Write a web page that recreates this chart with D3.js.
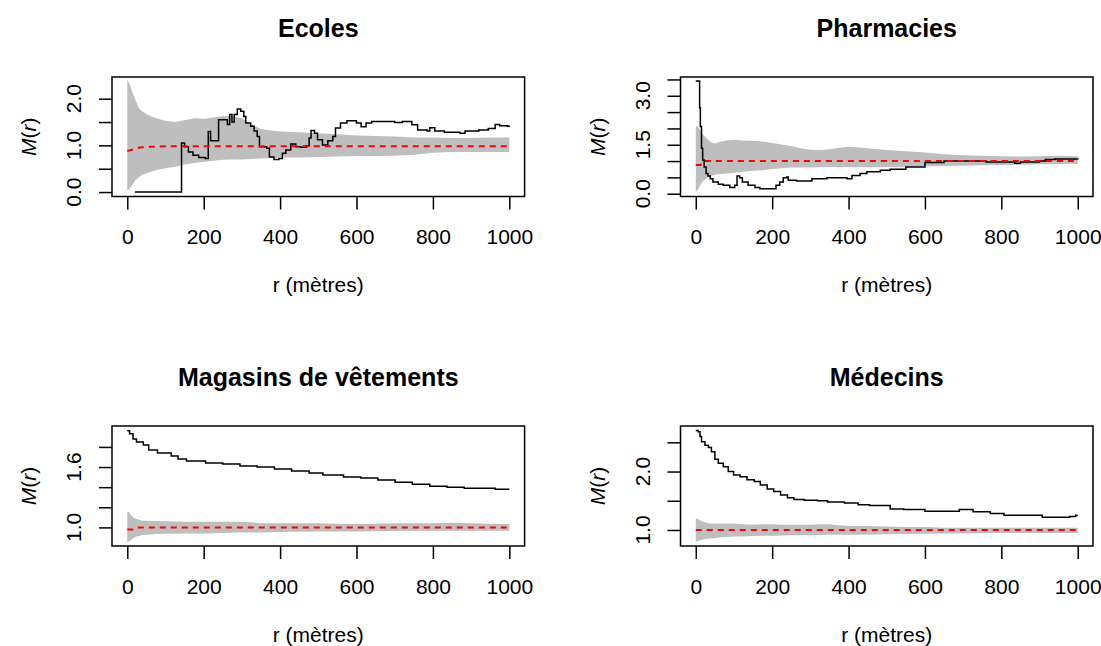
<!DOCTYPE html>
<html><head><meta charset="utf-8">
<script src="https://cdn.jsdelivr.net/npm/d3@7"></script>
<style>
body{margin:0;background:#fff}
svg{display:block}
text{font-family:"Liberation Sans",Arial,Helvetica,sans-serif;fill:#000}
</style>
</head><body>
<svg id="chart" width="1101" height="646"></svg>
<script>
// ---------------- DATA ----------------
const titles = ["Ecoles", "Pharmacies", "Magasins de vêtements", "Médecins"];
const xLabel = "r (mètres)";
const xTicks = [0, 200, 400, 600, 800, 1000];

// envelope grid (r in metres)
const bandR = [0,5,10,15,20,30,40,50,60,80,100,125,150,175,200,225,250,275,300,325,350,375,400,450,500,550,600,650,700,750,800,850,900,950,1000];

// Ecoles
const ecolesHi = [2.40,2.33,2.22,2.10,2.00,1.80,1.72,1.67,1.63,1.57,1.53,1.50,1.54,1.58,1.57,1.60,1.63,1.62,1.58,1.45,1.35,1.32,1.30,1.28,1.26,1.24,1.21,1.20,1.19,1.17,1.17,1.16,1.16,1.17,1.17];
const ecolesLo = [0.03,0.06,0.12,0.17,0.24,0.32,0.37,0.40,0.43,0.48,0.51,0.54,0.59,0.62,0.65,0.67,0.69,0.70,0.70,0.71,0.72,0.73,0.74,0.74,0.75,0.76,0.77,0.77,0.78,0.80,0.84,0.86,0.86,0.86,0.86];
const ecolesTheoR = [0,10,20,30,40,60,100,1000];
const ecolesTheo = [0.88,0.90,0.93,0.95,0.96,0.97,0.98,0.98];
const ecolesObsR = [20,142,150,160,172,187,204,212,218,239,262,268,274,280,288,297,305,310,323,332,340,346,365,372,384,397,406,415,428,441,454,468,476,481,490,498,511,525,538,545,558,575,600,612,625,640,700,720,745,760,785,792,805,830,871,884,920,945,963,975,995,1000];
const ecolesObs = [0,1.05,0.97,0.86,0.79,0.74,0.72,1.30,1.10,1.55,1.45,1.66,1.50,1.66,1.78,1.73,1.62,1.48,1.41,1.31,1.19,0.97,0.94,0.75,0.70,0.72,0.83,0.90,1.03,0.97,0.96,0.99,1.16,1.32,1.26,1.12,1.01,1.10,1.19,1.37,1.48,1.53,1.48,1.40,1.48,1.51,1.49,1.51,1.44,1.33,1.31,1.38,1.31,1.28,1.26,1.31,1.33,1.36,1.45,1.42,1.41,1.40];

// Pharmacies
const pharmaHi = [2.06,2.06,1.98,1.90,1.80,1.68,1.58,1.54,1.58,1.63,1.65,1.63,1.62,1.60,1.55,1.51,1.46,1.39,1.35,1.34,1.36,1.41,1.44,1.39,1.34,1.30,1.26,1.21,1.18,1.16,1.15,1.14,1.15,1.16,1.15];
const pharmaLo = [0.05,0.12,0.22,0.33,0.40,0.48,0.54,0.58,0.60,0.62,0.64,0.67,0.70,0.72,0.76,0.78,0.80,0.80,0.80,0.81,0.82,0.82,0.81,0.81,0.82,0.83,0.84,0.85,0.86,0.87,0.88,0.89,0.90,0.91,0.92];
const pharmaTheoR = [0,12,20,1000];
const pharmaTheo = [0.88,0.88,1.00,1.00];
const pharmaObsR = [0,10,12,15,18,22,27,32,38,45,59,72,89,102,108,115,122,137,155,168,210,220,229,238,242,264,282,304,343,378,396,409,430,448,483,509,550,600,650,700,760,800,835,850,900,915,940,1000];
const pharmaObs = [3.45,2.63,2.06,1.39,1.03,0.82,0.62,0.54,0.46,0.36,0.29,0.26,0.19,0.26,0.54,0.49,0.36,0.26,0.19,0.15,0.26,0.36,0.49,0.51,0.41,0.39,0.39,0.46,0.49,0.49,0.46,0.56,0.62,0.67,0.72,0.75,0.82,0.96,1.00,1.00,0.97,0.97,0.93,0.97,1.00,1.05,1.06,1.05];

// Magasins de vêtements
const magHi = [1.155,1.15,1.12,1.10,1.09,1.075,1.066,1.065,1.064,1.063,1.06,1.058,1.056,1.056,1.056,1.056,1.056,1.056,1.055,1.05,1.04,1.04,1.04,1.04,1.04,1.035,1.033,1.036,1.04,1.04,1.04,1.045,1.04,1.036,1.033];
const magLo = [0.848,0.86,0.874,0.89,0.905,0.915,0.924,0.928,0.93,0.934,0.936,0.938,0.94,0.94,0.94,0.942,0.944,0.946,0.948,0.95,0.95,0.952,0.954,0.956,0.958,0.96,0.96,0.962,0.964,0.966,0.967,0.967,0.967,0.967,0.967];
const magTheoR = [0,15,25,1000];
const magTheo = [0.98,0.98,1.00,1.00];
const magObsR = [0,6,15,24,42,56,79,115,133,155,205,250,295,340,385,430,476,512,566,611,656,701,746,792,837,882,927,963,1000];
const magObs = [1.96,1.93,1.88,1.85,1.82,1.77,1.74,1.71,1.68,1.66,1.64,1.63,1.61,1.60,1.58,1.56,1.54,1.52,1.50,1.49,1.47,1.45,1.43,1.41,1.40,1.39,1.39,1.38,1.38];

// Médecins
const medHi = [1.20,1.19,1.17,1.15,1.14,1.12,1.11,1.11,1.11,1.11,1.11,1.10,1.09,1.10,1.10,1.09,1.09,1.09,1.09,1.10,1.10,1.08,1.07,1.07,1.06,1.05,1.05,1.04,1.04,1.04,1.04,1.04,1.04,1.04,1.04];
const medLo = [0.80,0.81,0.82,0.83,0.84,0.85,0.855,0.86,0.87,0.88,0.89,0.89,0.895,0.90,0.90,0.905,0.91,0.91,0.91,0.915,0.92,0.92,0.92,0.92,0.925,0.93,0.935,0.94,0.94,0.945,0.95,0.95,0.95,0.95,0.95];
const medTheoR = [0,1000];
const medTheo = [1.00,1.00];
const medObsR = [0,6,11,15,24,33,41,50,59,72,85,99,116,134,153,169,187,204,222,240,257,284,319,345,389,425,455,509,545,600,663,690,726,771,807,862,907,952,979,995,1000];
const medObs = [2.70,2.68,2.60,2.51,2.45,2.41,2.34,2.21,2.14,2.08,2.00,1.94,1.91,1.86,1.83,1.77,1.70,1.66,1.60,1.55,1.52,1.51,1.50,1.48,1.46,1.43,1.42,1.36,1.35,1.32,1.32,1.35,1.31,1.28,1.25,1.25,1.22,1.22,1.23,1.25,1.25];

// y axis ticks and which ticks carry a label
const yTicks1 = [0,0.5,1,1.5,2],            yLab1 = [0,1,2];
const yTicks2 = [0,0.5,1,1.5,2,2.5,3,3.5],  yLab2 = [0,1.5,3];
const yTicks3 = [1.0,1.2,1.4,1.6,1.8],      yLab3 = [1.0,1.6];
const yTicks4 = [1.0,1.5,2.0,2.5],          yLab4 = [1.0,2.0];

// ---------------- LAYOUT ----------------
const panels = [
  {title: titles[0], hi: ecolesHi, lo: ecolesLo, theoR: ecolesTheoR, theo: ecolesTheo, obsR: ecolesObsR, obs: ecolesObs,
   yDom: [-0.095, 2.465], yTicks: yTicks1, yLab: yLab1, x0: 112, x1: 524.6, y0: 77, y1: 196.5},
  {title: titles[1], hi: pharmaHi, lo: pharmaLo, theoR: pharmaTheoR, theo: pharmaTheo, obsR: pharmaObsR, obs: pharmaObs,
   yDom: [-0.085, 3.575], yTicks: yTicks2, yLab: yLab2, x0: 680.5, x1: 1093, y0: 77, y1: 196.5},
  {title: titles[2], hi: magHi, lo: magLo, theoR: magTheoR, theo: magTheo, obsR: magObsR, obs: magObs,
   yDom: [0.815, 2.008], yTicks: yTicks3, yLab: yLab3, x0: 112, x1: 524.6, y0: 426, y1: 546},
  {title: titles[3], hi: medHi, lo: medLo, theoR: medTheoR, theo: medTheo, obsR: medObsR, obs: medObs,
   yDom: [0.726, 2.779], yTicks: yTicks4, yLab: yLab4, x0: 680.5, x1: 1093, y0: 426, y1: 546}
];

const svg = d3.select("#chart");
const fmt = d3.format(".1f");
const tickLen = 13;
const fs = 21;

panels.forEach(p => {
  const x = d3.scaleLinear().domain([-40, 1040]).range([p.x0, p.x1]);
  const y = d3.scaleLinear().domain(p.yDom).range([p.y1, p.y0]);
  const g = svg.append("g");

  // envelope
  const band = bandR.map((r, i) => ({r, hi: p.hi[i], lo: p.lo[i]}));
  g.append("path").datum(band)
    .attr("fill", "#bebebe").attr("stroke", "none")
    .attr("d", d3.area().x(d => x(d.r)).y0(d => y(d.lo)).y1(d => y(d.hi)));

  // observed
  const obs = p.obsR.map((r, i) => ({r, v: p.obs[i]}));
  g.append("path").datum(obs)
    .attr("fill", "none").attr("stroke", "#000").attr("stroke-width", 1.5)
    .attr("d", d3.line().x(d => x(d.r)).y(d => y(d.v)).curve(d3.curveStepAfter));

  // theoretical
  const theo = p.theoR.map((r, i) => ({r, v: p.theo[i]}));
  g.append("path").datum(theo)
    .attr("fill", "none").attr("stroke", "#ff0000").attr("stroke-width", 2)
    .attr("stroke-dasharray", "6,5")
    .attr("d", d3.line().x(d => x(d.r)).y(d => y(d.v)));

  // box
  g.append("rect").attr("x", p.x0).attr("y", p.y0)
    .attr("width", p.x1 - p.x0).attr("height", p.y1 - p.y0)
    .attr("fill", "none").attr("stroke", "#000").attr("stroke-width", 1.5);

  // x axis
  const xa = g.append("g").attr("transform", `translate(0,${p.y1})`)
    .call(d3.axisBottom(x).tickValues(xTicks).tickSize(tickLen).tickPadding(20).tickFormat(d3.format("d")));
  xa.select(".domain").remove();
  xa.selectAll("line").attr("stroke", "#000").attr("stroke-width", 1.5);
  xa.selectAll("text").attr("font-size", fs).attr("fill", "#000")
    .attr("font-family", "'Liberation Sans', Arial, sans-serif");

  // y axis
  const ya = g.append("g").attr("transform", `translate(${p.x0},0)`)
    .call(d3.axisLeft(y).tickValues(p.yTicks).tickSize(tickLen).tickFormat(""));
  ya.select(".domain").remove();
  ya.selectAll("line").attr("stroke", "#000").attr("stroke-width", 1.5);
  p.yLab.forEach(v => {
    g.append("text")
      .attr("transform", `translate(${p.x0 - 38},${y(v)}) rotate(-90)`)
      .attr("text-anchor", "middle").attr("dy", "0.35em")
      .attr("font-size", fs).text(fmt(v));
  });

  // title
  const cx = (p.x0 + p.x1) / 2;
  g.append("text").attr("x", cx).attr("y", p.y0 - 49).attr("dy", "0.35em")
    .attr("text-anchor", "middle").attr("font-size", 25).attr("font-weight", "bold")
    .text(p.title);

  // x label
  g.append("text").attr("x", cx).attr("y", p.y1 + 88.5).attr("dy", "0.35em")
    .attr("text-anchor", "middle").attr("font-size", fs).text(xLabel);

  // y label M(r)
  const yl = g.append("text")
    .attr("transform", `translate(${p.x0 - 83},${(p.y0 + p.y1) / 2}) rotate(-90)`)
    .attr("text-anchor", "middle").attr("dy", "0.35em").attr("font-size", fs);
  yl.append("tspan").attr("font-style", "italic").text("M");
  yl.append("tspan").text("(");
  yl.append("tspan").attr("font-style", "italic").text("r");
  yl.append("tspan").text(")");
});
</script>
</body></html>
